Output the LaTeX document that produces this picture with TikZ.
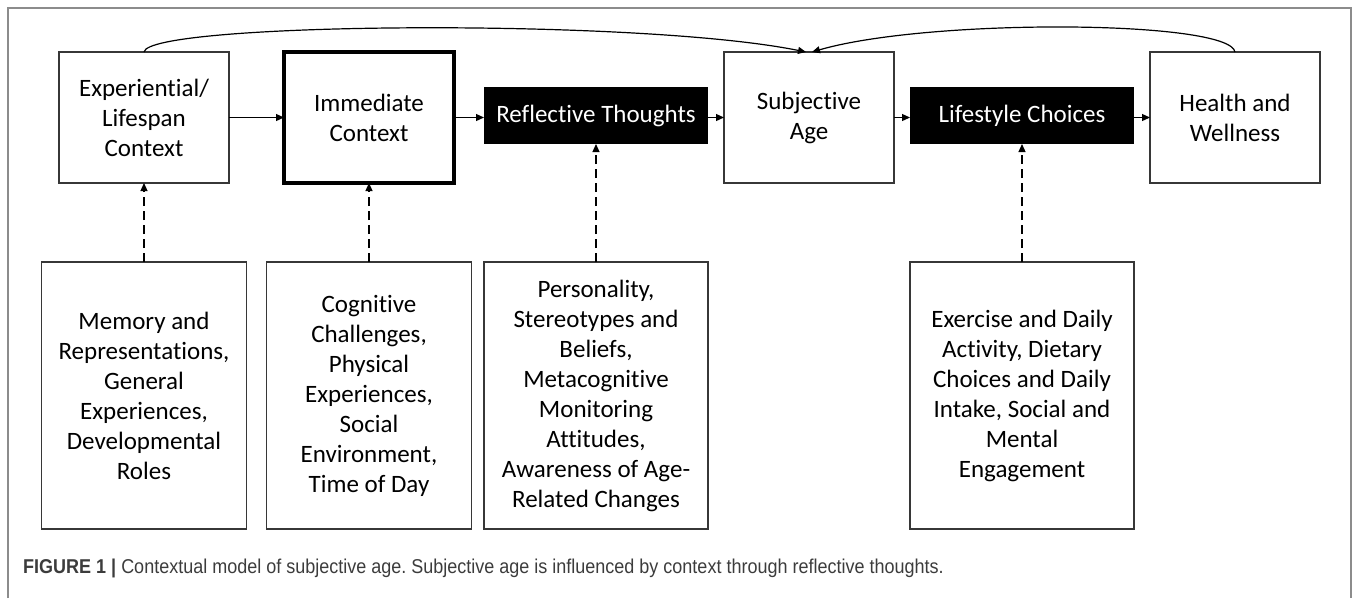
\documentclass[tikz,border=0pt]{standalone}
\usepackage{fontspec}
\setmainfont{Carlito}[Ligatures=NoCommon]
\newfontfamily\captionfont{Liberation Sans}[FakeStretch=0.9]
\usetikzlibrary{arrows.meta, positioning}
\definecolor{boxline}{RGB}{55,55,55}
\definecolor{framegray}{RGB}{140,140,140}
\definecolor{captiongray}{RGB}{60,60,60}
\frenchspacing

\begin{document}
\begin{tikzpicture}[
    x=1pt, y=-1pt,
    >={Triangle[length=8pt, width=7pt]},
    stage/.style={rectangle, draw=boxline, line width=1.4pt, outer sep=0pt, inner sep=0pt,
                  minimum width=170pt, minimum height=131pt, align=center,
                  font={\fontsize{25}{30}\selectfont}},
    keystage/.style={stage, draw=black, line width=3.2pt},
    process/.style={rectangle, fill=black, text=white, outer sep=0pt, inner sep=0pt,
                    minimum width=224pt, minimum height=57pt, align=center,
                    font={\fontsize{25}{30}\selectfont}},
    factors/.style={stage, minimum width=#1, minimum height=267pt},
    arr/.style={->, line width=1.2pt},
    dasharr/.style={->, line width=1.2pt, dash pattern=on 9pt off 5pt},
]
    \useasboundingbox (0,0) rectangle (1358,598);
    \draw[framegray, line width=1.2pt] (8,598) -- (8,8) -- (1351,8) -- (1351,598);

    % Main chain (black boxes sit 2pt higher)
    \node[stage] (exp) at (144,117.5) {Experiential/\\Lifespan\\Context};
    \node[keystage, right=55pt of exp] (imm) {Immediate\\Context};
    \node[process, right=30pt of imm, yshift=2pt] (refl) {Reflective Thoughts};
    \node[stage, right=16pt of refl, yshift=-2pt] (subj) {Subjective\\Age};
    \node[process, right=16pt of subj, yshift=2pt] (life) {Lifestyle Choices};
    \node[stage, right=16pt of life, yshift=-2pt] (health) {Health and\\Wellness};

    \draw[arr] (exp) -- (imm);
    \draw[arr] (imm.east) -- (imm.east -| refl.west);
    \draw[arr] ([yshift=-2pt]refl.east) -- (subj.west);
    \draw[arr] (subj.east) -- (subj.east -| life.west);
    \draw[arr] ([yshift=-2pt]life.east) -- (health.west);

    % Feedback into subjective age
    \draw[arr] (exp.north) .. controls +(4,-30) and +(-167,-34) .. ([xshift=-3pt]subj.north);
    \draw[arr] (health.north) .. controls +(-5,-32) and +(117,-34) .. ([xshift=3pt]subj.north);

    % Influencing factors
    \node[factors=205pt, below=79pt of exp] (mem) {Memory and\\Representations,\\General\\Experiences,\\Developmental\\Roles};
    \node[factors=205pt, below=79pt of imm] (cog) {Cognitive\\Challenges,\\Physical\\Experiences,\\Social\\Environment,\\Time of Day};
    \node[factors=224pt, below=118pt of refl] (pers) {Personality,\\Stereotypes and\\Beliefs,\\Metacognitive\\Monitoring\\Attitudes,\\Awareness of Age-\\Related Changes};
    \node[factors=224pt, below=118pt of life] (exer) {Exercise and Daily\\Activity, Dietary\\Choices and Daily\\Intake, Social and\\Mental\\Engagement};

    \draw[dasharr] (mem) -- (exp);
    \draw[dasharr] (cog) -- (imm);
    \draw[dasharr] (pers) -- (refl);
    \draw[dasharr] (exer) -- (life);

    \node[anchor=base west, inner sep=0pt, text=captiongray,
          font={\captionfont\fontsize{20}{24}\selectfont}] (caption) at (23,573)
        {\textbf{FIGURE 1 |} Contextual model of subjective age. Subjective age is influenced by context through reflective thoughts.};
\end{tikzpicture}
\end{document}
